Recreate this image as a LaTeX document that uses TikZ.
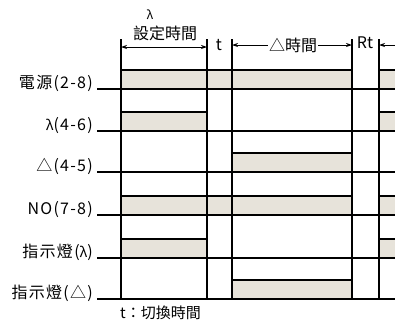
\documentclass[tikz,border=0pt]{standalone}
\usepackage{fontspec}
\setmainfont{Noto Sans CJK TC}
\usetikzlibrary{arrows.meta}
\definecolor{shadefill}{RGB}{231,227,218}
\begin{document}
\begin{tikzpicture}[x=1pt,y=-1pt, font=\fontsize{15}{17}\selectfont,
  bartop/.style={line width=2.4pt},
  baseln/.style={line width=1.1pt},
  vline/.style={line width=1.1pt},
  lab/.style={anchor=base east, inner sep=0pt, font=\fontsize{16}{18}\selectfont\addfontfeature{LetterSpace=8}},
  dimln/.style={line width=0.8pt}]
\useasboundingbox (0,0) rectangle (395,325);
% bars (x1, x2, baseline)
\foreach \xa/\xb/\yb in {121/352/89, 379/395/89,
    121/207/131, 379/395/131,
    232/352/172,
    121/352/215, 379/395/215,
    121/207/258, 379/395/258,
    232/352/299}{
  \fill[shadefill] (\xa,\yb-19) rectangle (\xb,\yb);
  \draw[bartop] (\xa,\yb-19) -- (\xb,\yb-19);
}
% baselines
\foreach \yb in {89,131,172,215,258,299}{
  \draw[baseln] (97,\yb) -- (395,\yb);
}
% vertical lines
\foreach \xv in {121,207,232,352,379}{
  \draw[vline] (\xv,39) -- (\xv,300);
}
% labels
\node[lab] (l1) at (93,88) {電源(2-8)};
\node[lab] (l2) at (93,130) {{\fontsize{14}{16}\selectfont λ}(4-6)};
\node[lab] (l3) at (93,171) {△(4-5)};
\node[lab] (l4) at (93,214) {NO(7-8)};
\node[lab] (l5) at (93,257) {指示燈({\fontsize{14}{16}\selectfont λ})};
\node[lab] (l6) at (93,298) {指示燈(△)};
% top annotations
\node[font=\fontsize{12}{14}\selectfont] (ystar) at (150,15) {λ};
\node[font=\fontsize{16}{18}\selectfont] (settime) at (165,33) {設定時間};
\coordinate (d1a) at (121,47);
\coordinate (d1b) at (207,47);
\draw[dimln,{Stealth[length=6pt,width=4pt]}-{Stealth[length=6pt,width=4pt]}] (d1a) -- (d1b);
\node[font=\fontsize{16}{18}\selectfont] (tl) at (219,45) {t};
\node[inner sep=1pt, font=\fontsize{16}{18}\selectfont] (dtime) at (293,45) {△時間};
\coordinate (d2a) at (232,45);
\coordinate (d2b) at (352,45);
\draw[dimln,-{Stealth[length=6pt,width=4pt]}] (dtime.west) -- (d2a);
\draw[dimln,-{Stealth[length=6pt,width=4pt]}] (dtime.east) -- (d2b);
\node[font=\fontsize{16}{18}\selectfont] (rt) at (365,43) {Rt};
\coordinate (d3a) at (379,45);
\coordinate (d3b) at (395,45);
\draw[dimln,-{Stealth[length=6pt,width=4pt]}] (d3b) -- (d3a);
% footnote
\node[anchor=west, inner sep=0pt] (note) at (120,313) {t：切換時間};
\end{tikzpicture}
\end{document}
